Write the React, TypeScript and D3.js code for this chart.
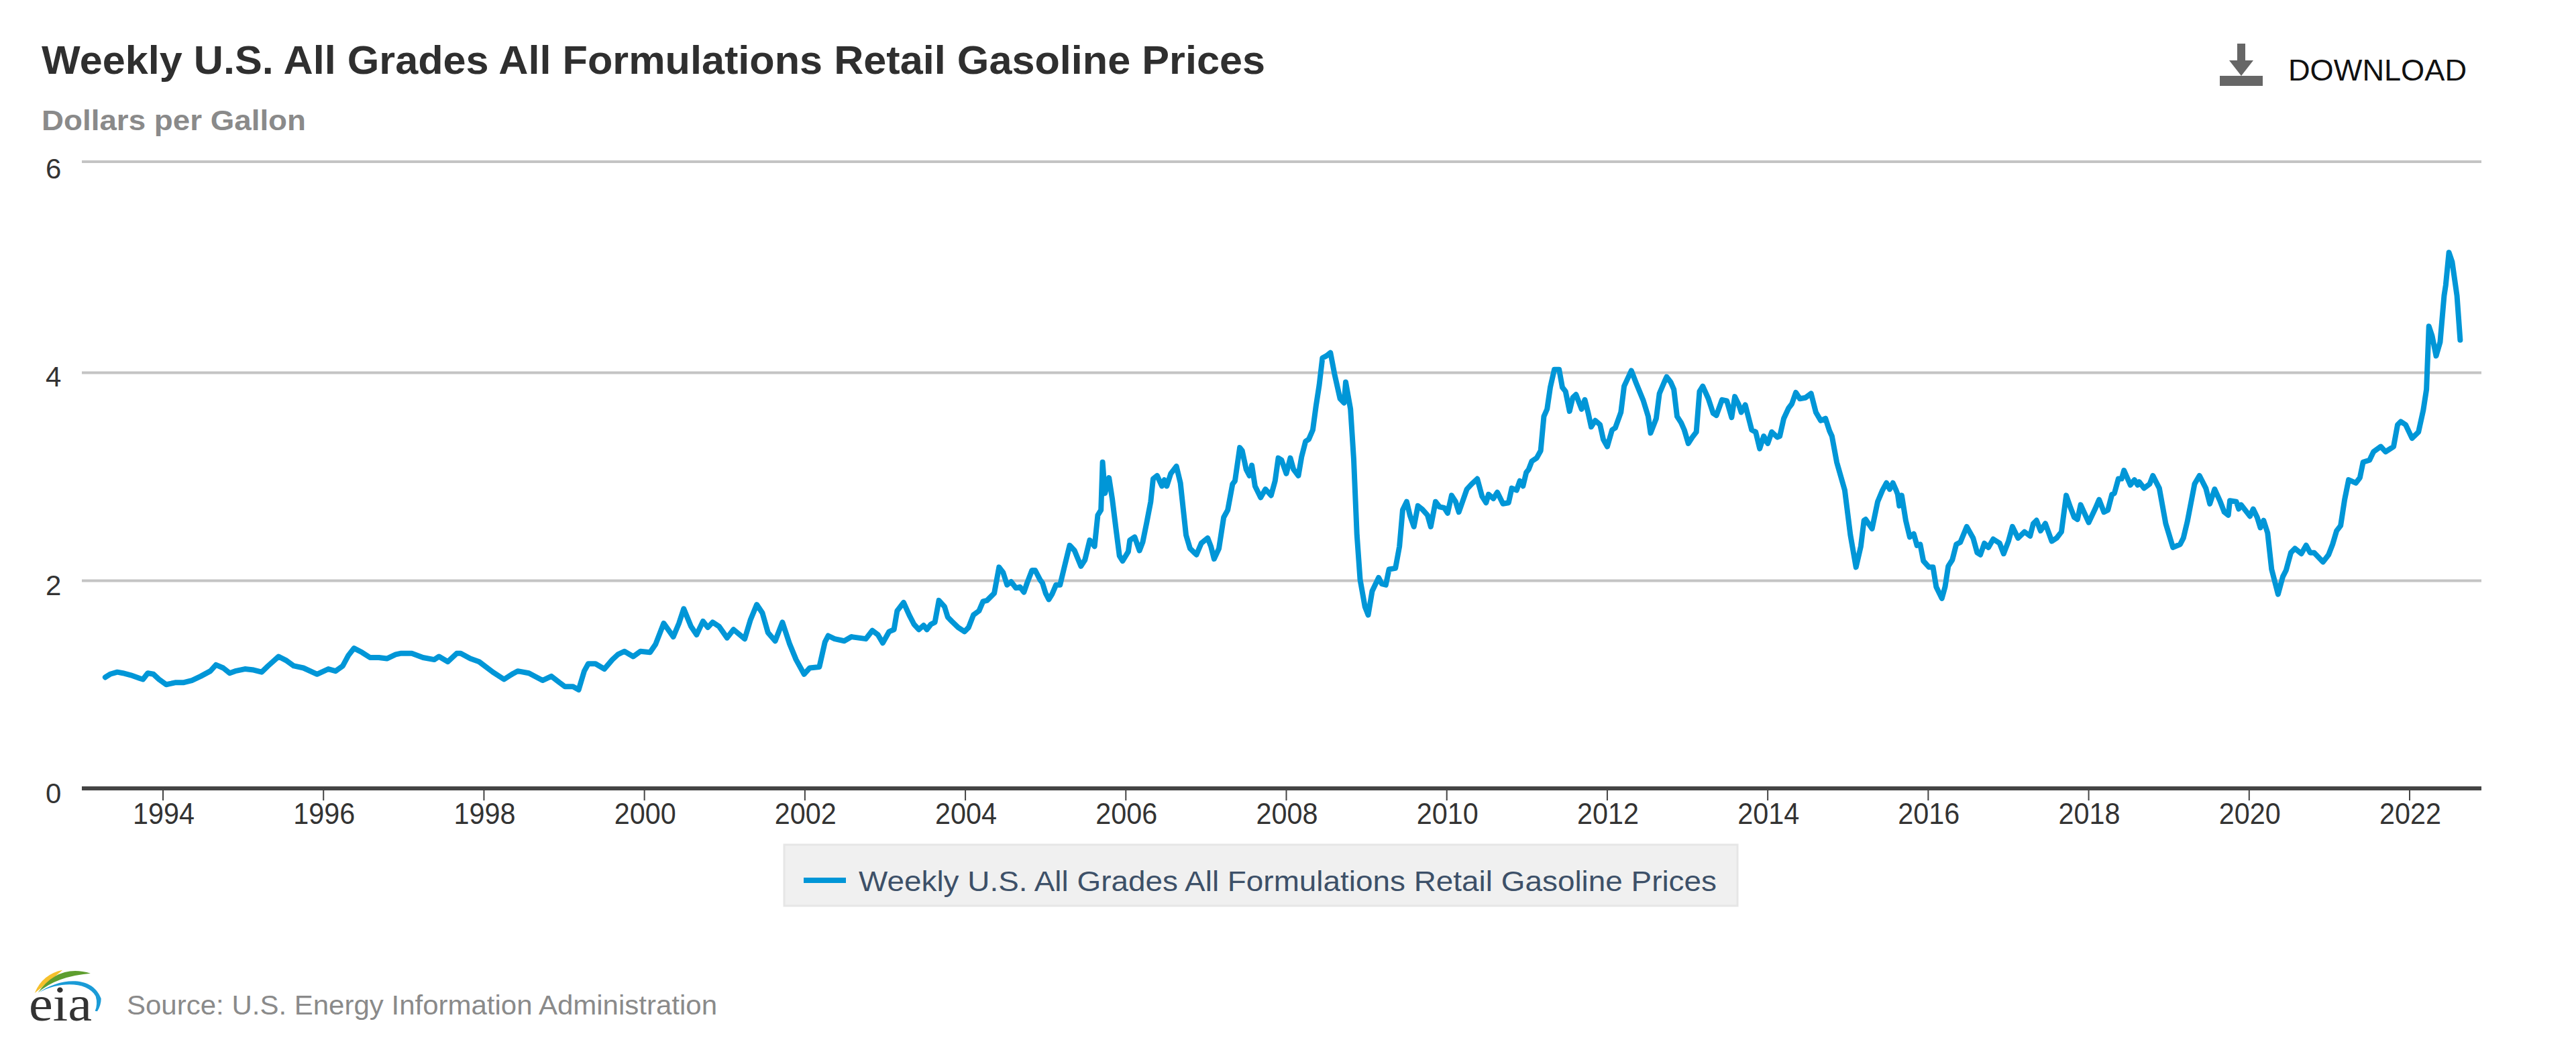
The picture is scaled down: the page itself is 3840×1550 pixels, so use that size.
import React from "react";
import * as d3 from "d3";

const TITLE = "Weekly U.S. All Grades All Formulations Retail Gasoline Prices";
const UNIT = "Dollars per Gallon";
const SOURCE = "Source: U.S. Energy Information Administration";

const yearTicks = [1994, 1996, 1998, 2000, 2002, 2004, 2006, 2008, 2010, 2012, 2014, 2016, 2018, 2020, 2022];
const priceTicks = [0, 2, 4, 6];

// [decimal year, dollars per gallon]
const prices1993to2003: [number, number][] = [
  [1993.28, 1.07], [1993.34, 1.1], [1993.43, 1.12], [1993.5, 1.11], [1993.6, 1.09], [1993.71, 1.06], [1993.75, 1.05], [1993.81, 1.11], [1993.88, 1.1], [1993.95, 1.05],
  [1994.04, 1.0], [1994.16, 1.02], [1994.26, 1.02], [1994.36, 1.04], [1994.47, 1.08], [1994.59, 1.13], [1994.66, 1.19], [1994.75, 1.16], [1994.83, 1.11], [1994.9, 1.13],
  [1995.02, 1.15], [1995.13, 1.14], [1995.23, 1.12], [1995.31, 1.18], [1995.44, 1.27], [1995.54, 1.23], [1995.63, 1.18], [1995.75, 1.16], [1995.92, 1.1],
  [1996.06, 1.15], [1996.15, 1.13], [1996.24, 1.18], [1996.31, 1.28], [1996.38, 1.35], [1996.48, 1.31], [1996.58, 1.26], [1996.69, 1.26], [1996.79, 1.25], [1996.9, 1.29], [1996.96, 1.3],
  [1997.1, 1.3], [1997.24, 1.26], [1997.38, 1.24], [1997.44, 1.27], [1997.55, 1.22], [1997.66, 1.3], [1997.71, 1.3], [1997.83, 1.25], [1997.94, 1.22],
  [1998.11, 1.12], [1998.25, 1.05], [1998.35, 1.1], [1998.42, 1.13], [1998.56, 1.11], [1998.73, 1.04], [1998.84, 1.08], [1998.94, 1.02],
  [1999.01, 0.98], [1999.11, 0.98], [1999.18, 0.95], [1999.25, 1.13], [1999.3, 1.2], [1999.39, 1.2], [1999.5, 1.15], [1999.6, 1.24], [1999.67, 1.29], [1999.75, 1.32], [1999.86, 1.27], [1999.95, 1.32],
  [2000.07, 1.31], [2000.14, 1.39], [2000.24, 1.59], [2000.36, 1.46], [2000.43, 1.59], [2000.49, 1.73], [2000.58, 1.56], [2000.65, 1.48], [2000.73, 1.61], [2000.79, 1.55], [2000.85, 1.6], [2000.93, 1.56],
  [2001.03, 1.45], [2001.11, 1.53], [2001.25, 1.44], [2001.32, 1.62], [2001.4, 1.77], [2001.47, 1.69], [2001.54, 1.5], [2001.63, 1.42], [2001.72, 1.6], [2001.81, 1.39], [2001.89, 1.24], [2001.99, 1.1],
  [2002.06, 1.16], [2002.18, 1.17], [2002.25, 1.41], [2002.29, 1.47], [2002.37, 1.44], [2002.49, 1.42], [2002.58, 1.46], [2002.76, 1.44], [2002.84, 1.52], [2002.91, 1.48], [2002.97, 1.4],
];

const prices2003to2009: [number, number][] = [
  [2003.05, 1.51], [2003.11, 1.53], [2003.15, 1.71], [2003.23, 1.79], [2003.3, 1.67], [2003.36, 1.58], [2003.42, 1.53], [2003.48, 1.57], [2003.52, 1.53], [2003.57, 1.58], [2003.62, 1.6], [2003.67, 1.81], [2003.74, 1.75], [2003.78, 1.65], [2003.83, 1.61], [2003.91, 1.55], [2003.99, 1.51],
  [2004.04, 1.55], [2004.1, 1.67], [2004.17, 1.71], [2004.22, 1.8], [2004.27, 1.81], [2004.36, 1.88], [2004.42, 2.13], [2004.47, 2.08], [2004.52, 1.96], [2004.57, 1.99], [2004.63, 1.93], [2004.68, 1.94], [2004.73, 1.89], [2004.77, 1.98], [2004.83, 2.1], [2004.87, 2.1], [2004.93, 2.01], [2004.96, 1.98],
  [2005.0, 1.88], [2005.04, 1.82], [2005.08, 1.87], [2005.13, 1.96], [2005.18, 1.96], [2005.23, 2.12], [2005.3, 2.34], [2005.36, 2.29], [2005.44, 2.14], [2005.49, 2.2], [2005.55, 2.39], [2005.61, 2.33], [2005.65, 2.63], [2005.69, 2.68], [2005.71, 3.14], [2005.74, 2.84], [2005.79, 2.99], [2005.83, 2.79], [2005.88, 2.48], [2005.92, 2.24], [2005.96, 2.19],
  [2006.03, 2.28], [2006.05, 2.39], [2006.11, 2.42], [2006.17, 2.29], [2006.21, 2.37], [2006.26, 2.56], [2006.31, 2.76], [2006.34, 2.98], [2006.39, 3.01], [2006.45, 2.91], [2006.48, 2.97], [2006.51, 2.91], [2006.56, 3.03], [2006.63, 3.1], [2006.68, 2.94], [2006.75, 2.44], [2006.8, 2.31], [2006.88, 2.25], [2006.94, 2.36],
  [2007.02, 2.41], [2007.06, 2.33], [2007.1, 2.21], [2007.16, 2.31], [2007.22, 2.61], [2007.27, 2.68], [2007.33, 2.93], [2007.36, 2.96], [2007.42, 3.28], [2007.45, 3.25], [2007.5, 3.07], [2007.54, 3.01], [2007.57, 3.11], [2007.61, 2.91], [2007.68, 2.8], [2007.74, 2.88], [2007.81, 2.82], [2007.86, 2.96], [2007.9, 3.18], [2007.94, 3.16],
  [2008.0, 3.03], [2008.05, 3.18], [2008.09, 3.07], [2008.15, 3.01], [2008.19, 3.19], [2008.24, 3.34], [2008.28, 3.36], [2008.33, 3.45], [2008.37, 3.68], [2008.41, 3.88], [2008.45, 4.14], [2008.5, 4.16], [2008.55, 4.19], [2008.6, 3.99], [2008.67, 3.75], [2008.72, 3.71], [2008.74, 3.91], [2008.8, 3.65], [2008.84, 3.17], [2008.88, 2.44], [2008.92, 2.01], [2008.98, 1.75],
  [2009.02, 1.67], [2009.07, 1.9], [2009.15, 2.03], [2009.19, 1.97], [2009.24, 1.96], [2009.28, 2.11], [2009.36, 2.12], [2009.41, 2.33], [2009.45, 2.68], [2009.5, 2.76], [2009.54, 2.63], [2009.59, 2.52], [2009.64, 2.72], [2009.69, 2.69], [2009.76, 2.63], [2009.8, 2.52], [2009.86, 2.76], [2009.91, 2.71], [2009.97, 2.7],
];

const prices2010to2015: [number, number][] = [
  [2010.01, 2.65], [2010.06, 2.82], [2010.11, 2.76], [2010.15, 2.66], [2010.25, 2.88], [2010.31, 2.93], [2010.38, 2.98], [2010.44, 2.81], [2010.49, 2.75], [2010.52, 2.83], [2010.58, 2.79], [2010.63, 2.85], [2010.7, 2.74], [2010.77, 2.75], [2010.81, 2.89], [2010.87, 2.87], [2010.91, 2.96], [2010.95, 2.91], [2010.99, 3.04],
  [2011.02, 3.07], [2011.06, 3.15], [2011.12, 3.18], [2011.17, 3.25], [2011.21, 3.58], [2011.25, 3.65], [2011.29, 3.86], [2011.34, 4.03], [2011.4, 4.03], [2011.44, 3.86], [2011.48, 3.82], [2011.53, 3.63], [2011.57, 3.76], [2011.61, 3.79], [2011.68, 3.65], [2011.72, 3.74], [2011.76, 3.62], [2011.8, 3.48], [2011.85, 3.54], [2011.91, 3.5], [2011.95, 3.36],
  [2012.0, 3.29], [2012.06, 3.45], [2012.1, 3.47], [2012.17, 3.62], [2012.21, 3.87], [2012.3, 4.02], [2012.36, 3.9], [2012.45, 3.73], [2012.51, 3.58], [2012.54, 3.42], [2012.61, 3.56], [2012.65, 3.8], [2012.71, 3.91], [2012.74, 3.96], [2012.79, 3.91], [2012.83, 3.84], [2012.87, 3.58], [2012.92, 3.52], [2012.96, 3.45],
  [2013.01, 3.32], [2013.06, 3.38], [2013.11, 3.43], [2013.15, 3.82], [2013.19, 3.87], [2013.26, 3.75], [2013.32, 3.61], [2013.36, 3.59], [2013.43, 3.74], [2013.49, 3.73], [2013.55, 3.57], [2013.59, 3.77], [2013.64, 3.69], [2013.67, 3.62], [2013.72, 3.69], [2013.77, 3.54], [2013.8, 3.45], [2013.85, 3.43], [2013.9, 3.27], [2013.95, 3.39],
  [2014.0, 3.32], [2014.05, 3.43], [2014.12, 3.38], [2014.15, 3.39], [2014.2, 3.56], [2014.26, 3.66], [2014.3, 3.7], [2014.35, 3.81], [2014.4, 3.75], [2014.47, 3.76], [2014.54, 3.8], [2014.6, 3.62], [2014.66, 3.54], [2014.72, 3.56], [2014.77, 3.44], [2014.8, 3.39], [2014.86, 3.14], [2014.96, 2.87],
  [2015.03, 2.44], [2015.1, 2.13], [2015.16, 2.33], [2015.2, 2.58], [2015.22, 2.59], [2015.3, 2.5], [2015.37, 2.76], [2015.43, 2.87], [2015.48, 2.94], [2015.52, 2.88], [2015.56, 2.94], [2015.6, 2.87],
];

const prices2015to2022: [number, number][] = [
  [2015.62, 2.83], [2015.64, 2.72], [2015.67, 2.82], [2015.72, 2.58], [2015.77, 2.42], [2015.82, 2.45], [2015.86, 2.34], [2015.9, 2.35], [2015.94, 2.19],
  [2016.01, 2.13], [2016.06, 2.13], [2016.1, 1.94], [2016.17, 1.83], [2016.21, 1.94], [2016.25, 2.14], [2016.3, 2.2], [2016.35, 2.35], [2016.4, 2.37], [2016.48, 2.52], [2016.56, 2.41], [2016.61, 2.27], [2016.65, 2.25], [2016.7, 2.36], [2016.75, 2.32], [2016.81, 2.4], [2016.89, 2.36], [2016.94, 2.26],
  [2017.0, 2.38], [2017.05, 2.52], [2017.12, 2.41], [2017.2, 2.47], [2017.27, 2.43], [2017.31, 2.55], [2017.35, 2.58], [2017.4, 2.48], [2017.46, 2.55], [2017.54, 2.38], [2017.6, 2.41], [2017.66, 2.47], [2017.72, 2.82], [2017.77, 2.71], [2017.82, 2.61], [2017.86, 2.59], [2017.9, 2.73],
  [2018.0, 2.56], [2018.08, 2.69], [2018.13, 2.78], [2018.19, 2.66], [2018.24, 2.68], [2018.29, 2.83], [2018.32, 2.84], [2018.37, 2.98], [2018.41, 2.98], [2018.44, 3.06], [2018.52, 2.92], [2018.57, 2.97], [2018.61, 2.92], [2018.63, 2.95], [2018.69, 2.89], [2018.76, 2.93], [2018.8, 3.01], [2018.88, 2.89], [2018.96, 2.55],
  [2019.05, 2.32], [2019.14, 2.35], [2019.18, 2.41], [2019.23, 2.57], [2019.32, 2.93], [2019.38, 3.01], [2019.46, 2.89], [2019.51, 2.74], [2019.57, 2.88], [2019.64, 2.76], [2019.69, 2.66], [2019.74, 2.63], [2019.76, 2.77], [2019.84, 2.76], [2019.87, 2.69], [2019.9, 2.73],
  [2020.01, 2.62], [2020.05, 2.69], [2020.1, 2.61], [2020.14, 2.51], [2020.18, 2.58], [2020.23, 2.46], [2020.28, 2.11], [2020.36, 1.87], [2020.42, 2.04], [2020.46, 2.1], [2020.52, 2.27], [2020.57, 2.31], [2020.65, 2.26], [2020.71, 2.34], [2020.76, 2.27], [2020.81, 2.27], [2020.92, 2.18], [2020.99, 2.25],
  [2021.04, 2.35], [2021.09, 2.48], [2021.14, 2.53], [2021.19, 2.78], [2021.24, 2.97], [2021.33, 2.94], [2021.38, 2.99], [2021.42, 3.14], [2021.5, 3.16], [2021.55, 3.24], [2021.64, 3.29], [2021.7, 3.24], [2021.8, 3.29], [2021.85, 3.5], [2021.89, 3.53], [2021.95, 3.5],
  [2022.03, 3.37], [2022.11, 3.43], [2022.17, 3.64], [2022.21, 3.84], [2022.24, 4.44], [2022.28, 4.35], [2022.33, 4.16], [2022.38, 4.29], [2022.43, 4.73], [2022.45, 4.83], [2022.49, 5.14], [2022.53, 5.05], [2022.59, 4.73], [2022.63, 4.31],
];

const prices = [...prices1993to2003, ...prices2003to2009, ...prices2010to2015, ...prices2015to2022];

const WIDTH = 3840;
const HEIGHT = 1550;
const PLOT_LEFT = 122;
const PLOT_RIGHT = 3699;

const FONT = '"Liberation Sans", Arial, sans-serif';

export default function App() {
  const x = d3.scaleLinear().domain([1994, 2022]).range([243, 3592]);
  // the top gridline sits a little higher than even spacing in the picture
  const y = d3.scaleLinear().domain([0, 2, 4, 6]).range([1175, 865.5, 555.5, 241]);
  // baselines of the price labels are evenly spaced, unlike the gridlines
  const yLabel = d3.scaleLinear().domain([0, 6]).range([1197, 266]);
  const line = d3
    .line<[number, number]>()
    .x((d) => x(d[0]))
    .y((d) => y(d[1]));

  return (
    <svg
      width={WIDTH}
      height={HEIGHT}
      viewBox={`0 0 ${WIDTH} ${HEIGHT}`}
      style={{ position: "absolute", left: 0, top: 0, background: "#fff", fontFamily: FONT }}
    >
      <text x={62} y={110} fontSize={60} fontWeight={700} fill="#2f2f2f" textLength={1824} lengthAdjust="spacingAndGlyphs">
        {TITLE}
      </text>
      <text x={62} y={194} fontSize={42} fontWeight={700} fill="#8a8a8a" textLength={394} lengthAdjust="spacingAndGlyphs">
        {UNIT}
      </text>

      <g fill="#666">
        <rect x={3309} y={113} width={64} height={15} />
        <rect x={3335} y={65} width={12} height={26} />
        <path d="M3323,90 L3359,90 L3341,113 Z" />
      </g>
      <text x={3411} y={120} fontSize={45} fill="#111" textLength={266} lengthAdjust="spacingAndGlyphs">
        DOWNLOAD
      </text>

      {priceTicks.filter((t) => t > 0).map((t) => (
        <line key={t} x1={PLOT_LEFT} x2={PLOT_RIGHT} y1={y(t)} y2={y(t)} stroke="#c4c4c4" strokeWidth={4} />
      ))}
      {priceTicks.map((t) => (
        <text key={t} x={68} y={yLabel(t)} fontSize={42} fill="#333">
          {t}
        </text>
      ))}

      <line x1={PLOT_LEFT} x2={PLOT_RIGHT} y1={y(0)} y2={y(0)} stroke="#444" strokeWidth={6} />
      {yearTicks.map((t) => (
        <g key={t}>
          <line x1={x(t)} x2={x(t)} y1={y(0)} y2={1193} stroke="#444" strokeWidth={2} />
          <text x={x(t) + 1} y={1228} fontSize={44} fill="#333" textAnchor="middle" textLength={92} lengthAdjust="spacingAndGlyphs">
            {t}
          </text>
        </g>
      ))}

      <path d={line(prices) ?? ""} fill="none" stroke="#0096d7" strokeWidth={8} strokeLinejoin="round" strokeLinecap="round" />

      <rect x={1169} y={1259} width={1421} height={91} fill="#f0f0f0" stroke="#e6e6e6" strokeWidth={3} />
      <line x1={1198} x2={1261} y1={1312} y2={1312} stroke="#0096d7" strokeWidth={8} />
      <text x={1280} y={1328} fontSize={42} fill="#3d5068" textLength={1279} lengthAdjust="spacingAndGlyphs">
        {TITLE}
      </text>

      {/* logo */}
      <path d="M51.7,1480 Q63.3,1451.7 93.3,1445.7 Q76.7,1460 51.7,1480 Z" fill="#f5c02c" />
      <path d="M56.7,1479.3 Q87.3,1436.3 135,1450.7 Q84,1455 56.7,1479.3 Z" fill="#5e9e2e" />
      <path
        d="M58.3,1479.3 C83.3,1460 136.7,1450 150.7,1488.3 Q150.7,1498.3 145,1507.3 L141.7,1506.7 Q146,1496.7 142.7,1485 C130,1461.7 86.7,1463.3 58.3,1479.3 Z"
        fill="#1a9bd7"
      />
      <text x={43} y={1521} fontSize={74} fontFamily='"Liberation Serif", serif' fill="#333" textLength={94} lengthAdjust="spacingAndGlyphs">
        eia
      </text>
      <text x={189} y={1512} fontSize={40} fill="#8a8a8a" textLength={880} lengthAdjust="spacingAndGlyphs">
        {SOURCE}
      </text>
    </svg>
  );
}
